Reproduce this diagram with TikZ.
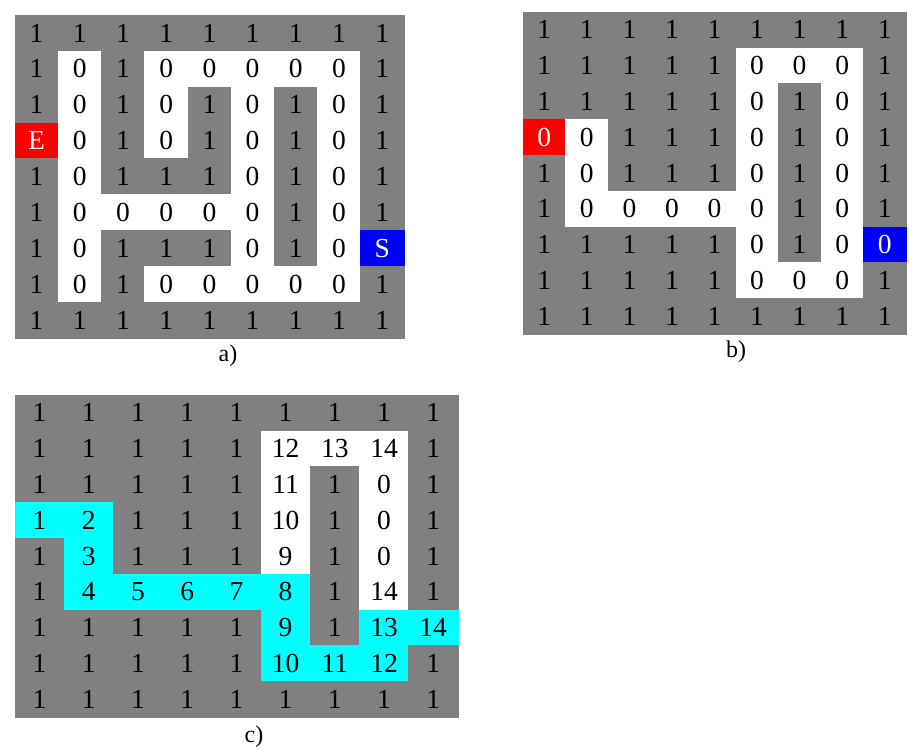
\documentclass[tikz,border=0pt]{standalone}
\usepackage{fontspec}
\setmainfont{Liberation Serif}
\usepackage{xcolor}
\definecolor{g}{RGB}{128,128,128}
\definecolor{w}{RGB}{255,255,255}
\definecolor{r}{RGB}{255,0,0}
\definecolor{b}{RGB}{0,0,255}
\definecolor{c}{RGB}{0,255,255}
\newcommand{\wt}[1]{\textcolor{white}{#1}}
% one maze grid: name, left, top, cell width, cell height, rows
\newcommand{\mazegrid}[6]{%
  \foreach \row [count=\r from 0] in {#6} {
    \foreach \k/\v [count=\c from 0] in \row {
      \node[cell, minimum width=#4pt, minimum height=#5pt, fill=\k, draw=\k]
        (#1-\r-\c) at ({#2+(\c+0.5)*#4},{#3+(\r+0.5)*#5}) {\v};
    }
  }
}

\begin{document}
\begin{tikzpicture}
  [x=1pt,y=-1pt,
   cell/.style={inner sep=0pt,line width=0.4pt,font=\fontsize{27.5}{27.5}\selectfont},
   caption/.style={inner sep=0pt,font=\fontsize{24}{24}\selectfont}]
  \useasboundingbox (0,0) rectangle (920,753);
  % a) maze
  \mazegrid{a}{15}{15}{43.2}{35.9}{%
    {g/1,g/1,g/1,g/1,g/1,g/1,g/1,g/1,g/1},
    {g/1,w/0,g/1,w/0,w/0,w/0,w/0,w/0,g/1},
    {g/1,w/0,g/1,w/0,g/1,w/0,g/1,w/0,g/1},
    {r/\wt{E},w/0,g/1,w/0,g/1,w/0,g/1,w/0,g/1},
    {g/1,w/0,g/1,g/1,g/1,w/0,g/1,w/0,g/1},
    {g/1,w/0,w/0,w/0,w/0,w/0,g/1,w/0,g/1},
    {g/1,w/0,g/1,g/1,g/1,w/0,g/1,w/0,b/\wt{S}},
    {g/1,w/0,g/1,w/0,w/0,w/0,w/0,w/0,g/1},
    {g/1,g/1,g/1,g/1,g/1,g/1,g/1,g/1,g/1}}
  % b) pruned maze
  \mazegrid{b}{523}{12}{42.55}{35.8}{%
    {g/1,g/1,g/1,g/1,g/1,g/1,g/1,g/1,g/1},
    {g/1,g/1,g/1,g/1,g/1,w/0,w/0,w/0,g/1},
    {g/1,g/1,g/1,g/1,g/1,w/0,g/1,w/0,g/1},
    {r/\wt{0},w/0,g/1,g/1,g/1,w/0,g/1,w/0,g/1},
    {g/1,w/0,g/1,g/1,g/1,w/0,g/1,w/0,g/1},
    {g/1,w/0,w/0,w/0,w/0,w/0,g/1,w/0,g/1},
    {g/1,g/1,g/1,g/1,g/1,w/0,g/1,w/0,b/\wt{0}},
    {g/1,g/1,g/1,g/1,g/1,w/0,w/0,w/0,g/1},
    {g/1,g/1,g/1,g/1,g/1,g/1,g/1,g/1,g/1}}
  % c) distances and path
  \mazegrid{c}{15}{395}{49.2}{35.8}{%
    {g/1,g/1,g/1,g/1,g/1,g/1,g/1,g/1,g/1},
    {g/1,g/1,g/1,g/1,g/1,w/12,w/13,w/14,g/1},
    {g/1,g/1,g/1,g/1,g/1,w/11,g/1,w/0,g/1},
    {c/1,c/2,g/1,g/1,g/1,w/10,g/1,w/0,g/1},
    {g/1,c/3,g/1,g/1,g/1,w/9,g/1,w/0,g/1},
    {g/1,c/4,c/5,c/6,c/7,c/8,g/1,w/14,g/1},
    {g/1,g/1,g/1,g/1,g/1,c/9,g/1,c/13,c/14},
    {g/1,g/1,g/1,g/1,g/1,c/10,c/11,c/12,g/1},
    {g/1,g/1,g/1,g/1,g/1,g/1,g/1,g/1,g/1}}
  % captions
  \node[caption] (capa) at (228,356) {a)};
  \node[caption] (capb) at (736,352) {b)};
  \node[caption] (capc) at (254,737) {c)};
\end{tikzpicture}
\end{document}
